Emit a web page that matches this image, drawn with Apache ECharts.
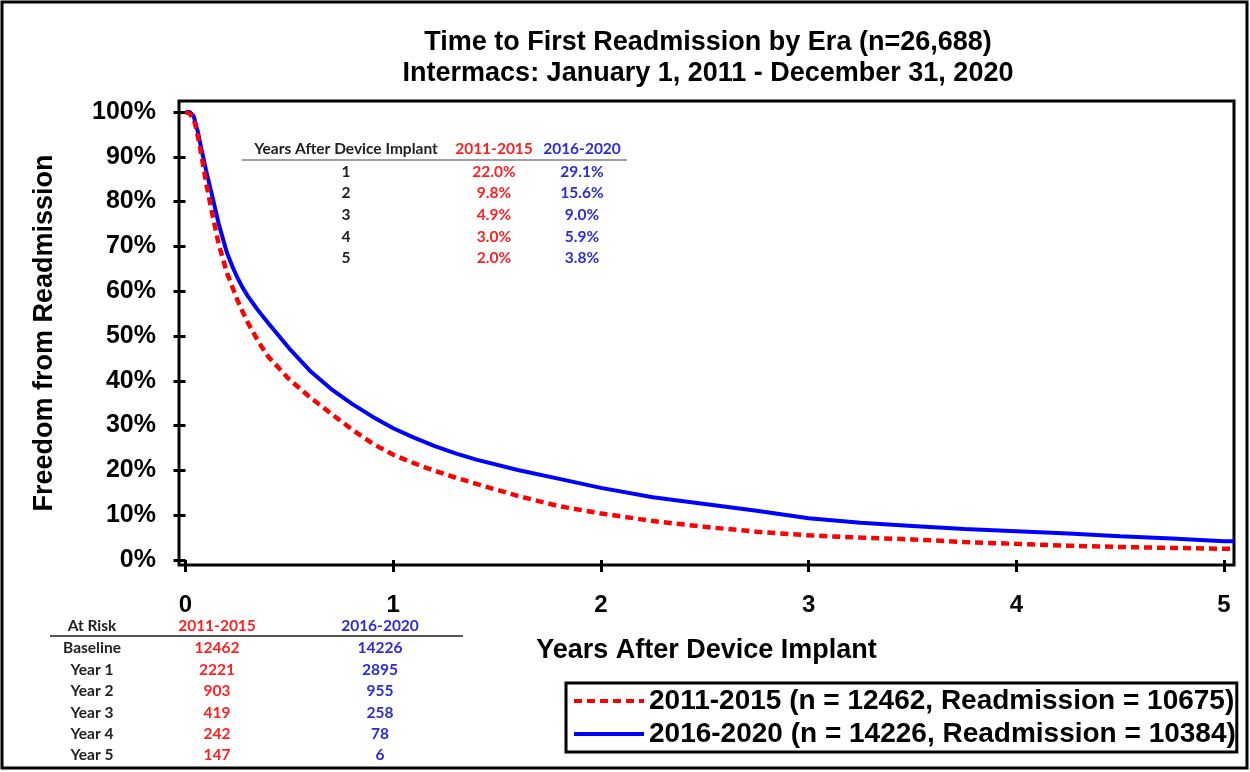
<!DOCTYPE html>
<html>
<head>
<meta charset="utf-8">
<script src="https://cdn.jsdelivr.net/npm/echarts@6/dist/echarts.min.js"></script>
<style>
html,body{margin:0;padding:0;background:#fff;}
#chart{width:1250px;height:772px;}
</style>
</head>
<body>
<div id="chart"></div>
<script>
// ---- data ----
const years   = [0, 0.02, 0.04, 0.06, 0.08, 0.10, 0.13, 0.16, 0.20, 0.225, 0.25, 0.275, 0.30, 0.35, 0.40, 0.50, 0.60, 0.70, 0.80, 0.90, 1.00, 1.10, 1.20, 1.30, 1.40, 1.60, 1.80, 2.00, 2.25, 2.50, 2.75, 3.00, 3.25, 3.50, 3.75, 4.00, 4.25, 4.50, 4.75, 5.00, 5.05];
const era2011 = [100, 99.6, 98.5, 94.5, 89.5, 84.0, 77.0, 70.5, 64.0, 61.0, 58.0, 55.4, 53.0, 48.8, 45.3, 40.3, 36.3, 32.7, 29.2, 26.0, 23.5, 21.6, 19.9, 18.4, 17.0, 14.3, 12.0, 10.4, 8.7, 7.4, 6.3, 5.5, 5.0, 4.6, 4.0, 3.6, 3.2, 2.9, 2.7, 2.5, 2.5];
const era2016 = [100, 100, 99.0, 95.5, 91.0, 86.8, 81.0, 75.0, 68.5, 65.6, 63.0, 60.8, 58.9, 55.7, 52.8, 47.2, 42.2, 38.2, 34.9, 32.0, 29.4, 27.3, 25.4, 23.8, 22.4, 20.1, 18.1, 16.1, 14.0, 12.5, 11.0, 9.3, 8.3, 7.6, 6.9, 6.4, 5.9, 5.3, 4.8, 4.2, 4.2];
const xTicks = [0, 1, 2, 3, 4, 5];
const yTicks = [0, 10, 20, 30, 40, 50, 60, 70, 80, 90, 100];
const seriesNames = ['2011-2015', '2016-2020'];
const legendLabels = ['2011-2015 (n = 12462, Readmission = 10675)', '2016-2020 (n = 14226, Readmission = 10384)'];
const titleLines = ['Time to First Readmission by Era (n=26,688)', 'Intermacs: January 1, 2011 - December 31, 2020'];

const insetHeader = ['Years After Device Implant', '2011-2015', '2016-2020'];
const insetYears = ['1', '2', '3', '4', '5'];
const inset2011 = ['22.0%', '9.8%', '4.9%', '3.0%', '2.0%'];
const inset2016 = ['29.1%', '15.6%', '9.0%', '5.9%', '3.8%'];

const riskHeader = ['At Risk', '2011-2015', '2016-2020'];
const riskRows = ['Baseline', 'Year 1', 'Year 2', 'Year 3', 'Year 4', 'Year 5'];
const risk2011 = [12462, 2221, 903, 419, 242, 147];
const risk2016 = [14226, 2895, 955, 258, 78, 6];

// ---- styling ----
const RED = '#ff0000', BLUE = '#0000ff';
const TRED = '#ff1f1f', TBLUE = '#2b2bdc';
const ARIAL = '"Liberation Sans", Arial, Helvetica, sans-serif';
const CAL = 'Lato, "Open Sans", sans-serif';
const TFS = 15.5;

const chart = echarts.init(document.getElementById('chart'), null, {renderer: 'canvas'});

function txt(x, y, text, color, size, align) {
  return {type: 'text', x: x, y: y, style: {text: String(text), fill: color, font: 'bold ' + size + 'px ' + CAL, align: align || 'center', verticalAlign: 'middle'}};
}

const graphics = [];
// outer frame
graphics.push({type: 'rect', shape: {x: 2, y: 2, width: 1245, height: 766}, style: {fill: 'none', stroke: '#000', lineWidth: 3}, silent: true, z: 0});

// inset table
const insetCols = [346, 494, 582];
graphics.push(txt(insetCols[0], 149, insetHeader[0], '#222', TFS));
graphics.push(txt(insetCols[1], 149, insetHeader[1], TRED, TFS));
graphics.push(txt(insetCols[2], 149, insetHeader[2], TBLUE, TFS));
graphics.push({type: 'line', shape: {x1: 242, y1: 160, x2: 627, y2: 160}, style: {stroke: '#a0a0a0', lineWidth: 2}});
const insetRowY = [171.5, 193, 215, 236.5, 258];
insetYears.forEach((v, i) => {
  graphics.push(txt(insetCols[0], insetRowY[i], v, '#222', TFS));
  graphics.push(txt(insetCols[1], insetRowY[i], inset2011[i], TRED, TFS));
  graphics.push(txt(insetCols[2], insetRowY[i], inset2016[i], TBLUE, TFS));
});

// at-risk table
const riskCols = [92, 217, 380];
graphics.push(txt(riskCols[0], 626, riskHeader[0], '#222', TFS));
graphics.push(txt(riskCols[1], 626, riskHeader[1], TRED, TFS));
graphics.push(txt(riskCols[2], 626, riskHeader[2], TBLUE, TFS));
graphics.push({type: 'line', shape: {x1: 50, y1: 636, x2: 463, y2: 636}, style: {stroke: '#555', lineWidth: 2}});
const riskRowY = [648, 669.5, 691, 712.5, 734, 755];
riskRows.forEach((r, i) => {
  graphics.push(txt(riskCols[0], riskRowY[i], r, '#222', TFS));
  graphics.push(txt(riskCols[1], riskRowY[i], risk2011[i], TRED, TFS));
  graphics.push(txt(riskCols[2], riskRowY[i], risk2016[i], TBLUE, TFS));
});

const option = {
  animation: false,
  backgroundColor: '#fff',
  title: {
    text: titleLines.join('\n'),
    left: 703,
    top: 22,
    textAlign: 'center',
    textStyle: {fontFamily: ARIAL, fontWeight: 'bold', fontSize: 27, lineHeight: 31, color: '#000'}
  },
  legend: {
    orient: 'vertical',
    left: 566,
    top: 683,
    padding: [3, 1, 3, 6],
    itemGap: 3,
    itemWidth: 70,
    itemHeight: 12,
    borderColor: '#000',
    borderWidth: 3,
    data: seriesNames,
    itemStyle: {color: 'rgba(0,0,0,0)', borderWidth: 0, opacity: 0},
    lineStyle: {width: 4},
    formatter: function (name) { return legendLabels[seriesNames.indexOf(name)]; },
    textStyle: {fontFamily: ARIAL, fontWeight: 'bold', fontSize: 28, lineHeight: 30, color: '#000'}
  },
  grid: {
    show: true,
    left: 179, top: 101, right: 16, bottom: 207,
    borderColor: '#000', borderWidth: 3, backgroundColor: '#fff'
  },
  xAxis: {
    type: 'value',
    min: -0.0313, max: 5.048,
    offset: 4,
    name: 'Years After Device Implant',
    nameLocation: 'middle',
    nameGap: 68,
    nameTextStyle: {fontFamily: ARIAL, fontWeight: 'bold', fontSize: 27, color: '#000'},
    axisLine: {show: false},
    splitLine: {show: false},
    axisTick: {show: true, length: 12, lineStyle: {color: '#000', width: 3}, customValues: xTicks},
    axisLabel: {customValues: xTicks, margin: 24, fontFamily: ARIAL, fontWeight: 'bold', fontSize: 24, color: '#000'}
  },
  yAxis: {
    type: 'value',
    min: -1.115, max: 102.45,
    offset: 4,
    name: 'Freedom from Readmission',
    nameLocation: 'middle',
    nameRotate: 90,
    nameGap: 117,
    nameTextStyle: {fontFamily: ARIAL, fontWeight: 'bold', fontSize: 27, color: '#000'},
    axisLine: {show: false},
    splitLine: {show: false},
    axisTick: {show: true, length: 12, lineStyle: {color: '#000', width: 3}, customValues: yTicks},
    axisLabel: {customValues: yTicks, margin: 19, formatter: '{value}%', fontFamily: ARIAL, fontWeight: 'bold', fontSize: 25, color: '#000'}
  },
  series: [
    {
      name: seriesNames[1],
      type: 'line',
      data: years.map((t, i) => [t, era2016[i]]),
      showSymbol: false,
      symbol: 'none',
      smooth: false,
      color: BLUE,
      lineStyle: {color: BLUE, width: 4},
      z: 2
    },
    {
      name: seriesNames[0],
      type: 'line',
      data: years.map((t, i) => [t, era2011[i]]),
      showSymbol: false,
      symbol: 'none',
      smooth: false,
      color: RED,
      lineStyle: {color: RED, width: 4.5, type: [8, 5]},
      z: 3
    }
  ],
  graphic: graphics
};
chart.setOption(option);
</script>
</body>
</html>
